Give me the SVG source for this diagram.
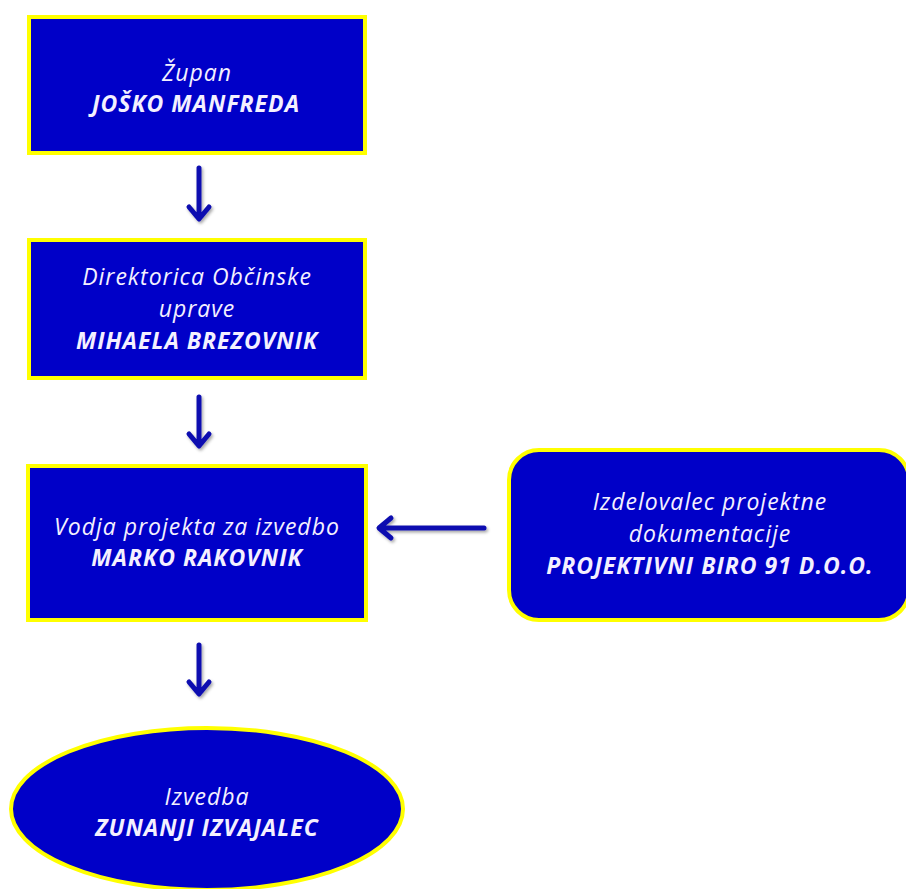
<svg xmlns="http://www.w3.org/2000/svg" width="906" height="889" viewBox="0 0 906 889">
  <defs>
    <style>
      .box { fill: #0000c8; stroke: #ffff00; stroke-width: 4; }
      .t { font-family: "Open Sans", "Liberation Sans", sans-serif; font-style: italic; font-size: 23px; letter-spacing: 1px; fill: #f4f0ff; text-anchor: middle; }
      .b { font-weight: bold; }
      .arrow { fill: none; stroke: #1010b0; stroke-width: 5; stroke-linecap: round; stroke-linejoin: round; }
    </style>
    <filter id="shadow" x="-30%" y="-30%" width="160%" height="160%">
      <feDropShadow dx="1.5" dy="2" stdDeviation="1.5" flood-color="#000" flood-opacity="0.35"/>
    </filter>
  </defs>
  <rect width="906" height="889" fill="#ffffff"/>

  <g id="zupan">
    <rect class="box" x="29" y="17" width="336" height="136"/>
    <text class="t" x="197" y="81">Župan</text>
    <text class="t b" x="196" y="112">JOŠKO MANFREDA</text>
  </g>

  <g id="direktorica">
    <rect class="box" x="29" y="240" width="336" height="138"/>
    <text class="t" x="197" y="285">Direktorica Občinske</text>
    <text class="t" x="197" y="317">uprave</text>
    <text class="t b" x="197" y="349">MIHAELA BREZOVNIK</text>
  </g>

  <g id="vodja">
    <rect class="box" x="28" y="466" width="338" height="154"/>
    <text class="t" x="197" y="535">Vodja projekta za izvedbo</text>
    <text class="t b" x="197" y="566">MARKO RAKOVNIK</text>
  </g>

  <g id="izdelovalec">
    <rect class="box" x="509" y="450" width="400" height="170" rx="30" ry="30"/>
    <text class="t" x="710" y="510">Izdelovalec projektne</text>
    <text class="t" x="710" y="542">dokumentacije</text>
    <text class="t b" x="710" y="574">PROJEKTIVNI BIRO 91 D.O.O.</text>
  </g>

  <g id="izvedba">
    <ellipse class="box" cx="207" cy="809" rx="196" ry="81"/>
    <text class="t" x="207" y="805">Izvedba</text>
    <text class="t b" x="207" y="836">ZUNANJI IZVAJALEC</text>
  </g>

  <g id="connectors" filter="url(#shadow)">
    <path class="arrow" d="M199,168 V218 M189,207 L199,219 L209,207"/>
    <path class="arrow" d="M199,397 V445 M189,434 L199,446 L209,434"/>
    <path class="arrow" d="M199,645 V693 M189,682 L199,694 L209,682"/>
    <path class="arrow" d="M484,528 H380 M391,518 L379,528 L391,538"/>
  </g>
</svg>
